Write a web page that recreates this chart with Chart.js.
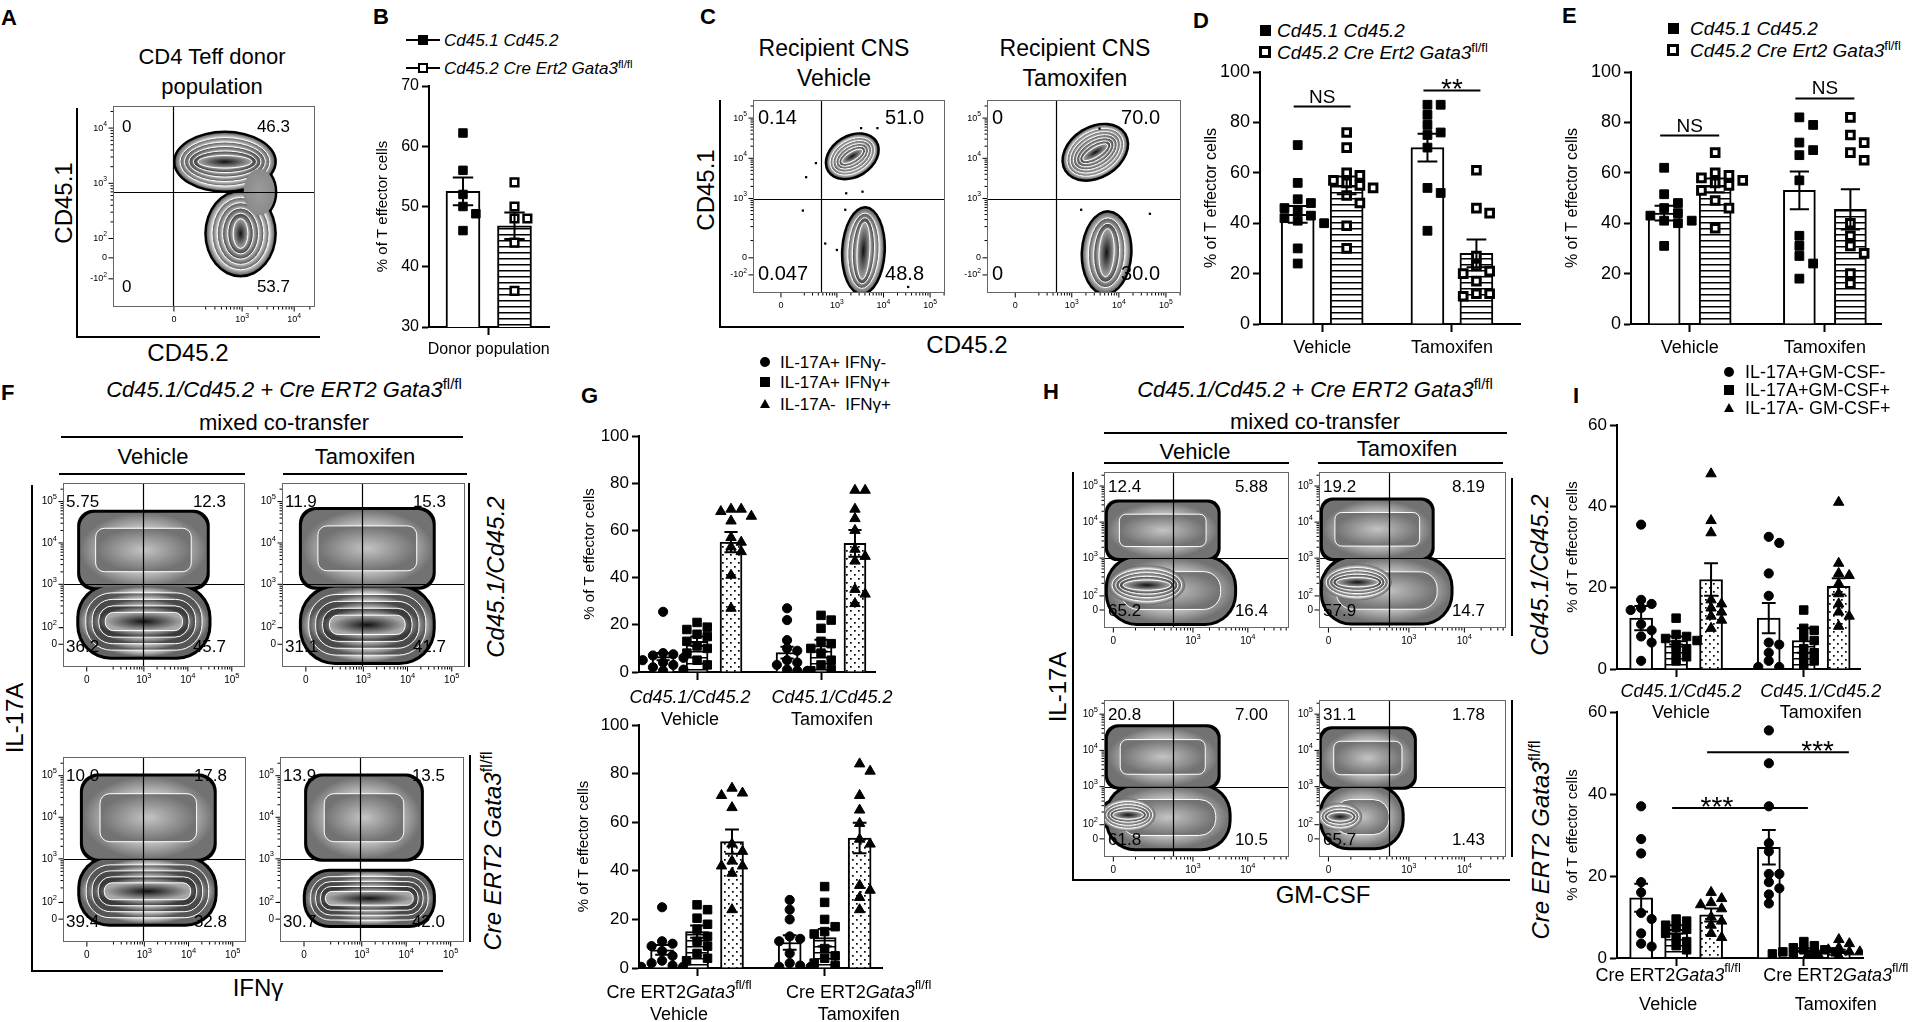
<!DOCTYPE html>
<html>
<head>
<meta charset="utf-8">
<title>Gata3 mixed co-transfer</title>
<script src="https://cdn.jsdelivr.net/npm/chart.js@4.4.1/dist/chart.umd.min.js"></script>
<style>
  html, body { margin: 0; padding: 0; background: #fff; }
  body { position: relative; width: 1918px; height: 1022px; overflow: hidden; color: #000;
         font-family: "Liberation Sans", Arial, Helvetica, sans-serif; }
  .t { position: absolute; white-space: nowrap; line-height: 1; }
  .t sup { font-size: 0.68em; vertical-align: 0; position: relative; top: -0.55em; line-height: 0; font-style: normal; }
  canvas { position: absolute; }
</style>
</head>
<body>
<script>
'use strict';

// ---------- flow plots: quadrant frequencies (TL, TR, BL, BR) ----------
const aQuad = ['0', '46.3', '0', '53.7'];
const cVehQuad = ['0.14', '51.0', '0.047', '48.8'];
const cTamQuad = ['0', '70.0', '0', '30.0'];
const fVehTopQuad = ['5.75', '12.3', '36.2', '45.7'];
const fTamTopQuad = ['11.9', '15.3', '31.1', '41.7'];
const fVehBotQuad = ['10.0', '17.8', '39.4', '32.8'];
const fTamBotQuad = ['13.9', '13.5', '30.7', '42.0'];
const hVehTopQuad = ['12.4', '5.88', '65.2', '16.4'];
const hTamTopQuad = ['19.2', '8.19', '57.9', '14.7'];
const hVehBotQuad = ['20.8', '7.00', '61.8', '10.5'];
const hTamBotQuad = ['31.1', '1.78', '65.7', '1.43'];

// ---------- flow plots: axis ticks, in display decades ----------
const aXTicks = [1.69, 3, 4];            const aXLabels = ['0', '10^3', '10^4'];
const aYTicks = [1.27, 1.65, 2, 3, 4];   const aYLabels = ['-10^2', '0', '10^2', '10^3', '10^4'];
const cXTicks = [1.8, 3, 4, 5];          const cXLabels = ['0', '10^3', '10^4', '10^5'];
const cYTicks = [1.1, 1.525, 3, 4, 5];   const cYLabels = ['-10^2', '0', '10^3', '10^4', '10^5'];
const fXTicks = [1.7, 3, 4, 5];          const fXLabels = ['0', '10^3', '10^4', '10^5'];
const fYTicks = [1.55, 1.95, 3, 4, 5];   const fYLabels = ['0', '10^2', '10^3', '10^4', '10^5'];
const hXTicks = [1.55, 3, 4];            const hXLabels = ['0', '10^3', '10^4'];
const hYTicks = [1.56, 1.95, 3, 4, 5];   const hYLabels = ['0', '10^2', '10^3', '10^4', '10^5'];

// quadrant gates [x, y]
const aGate = [1.67, 2.85];
const cGate = [2.66, 3.0];
const fGate = [2.97, 3.0];
const hGate = [2.64, 3.0];

// populations: [x, y, spreadX, spreadY, contours, shape, tilt, tone]
const aPops = [[2.67, 3.39, 0.95, 0.52, 5, 'e', 0], [2.97, 2.09, 0.65, 0.75, 5, 'e', 0], [3.33, 2.84, 0.3, 0.42, 0, 'e', 0, 'f']];
const cVehPops = [[3.33, 4.05, 0.58, 0.48, 5, 'e', -0.55], [3.57, 1.7, 0.43, 1.05, 3, 'e', 0.05]];
const cTamPops = [[3.5, 4.15, 0.72, 0.6, 6, 'e', -0.55], [3.74, 1.65, 0.5, 1.0, 3, 'e', 0.05]];
const fVehTopPops = [[2.99, 3.83, 1.44, 0.9, 1, 'b', 0, 'm'], [3.0, 2.1, 1.47, 0.85, 4, 'p', 0]];
const fTamTopPops = [[3.09, 3.87, 1.48, 0.93, 1, 'b', 0, 'm'], [3.09, 2.02, 1.48, 0.9, 4, 'p', 0]];
const fVehBotPops = [[3.09, 3.99, 1.48, 0.99, 1, 'b', 0, 'm'], [3.07, 2.22, 1.52, 0.78, 4, 'p', 0]];
const fTamBotPops = [[3.05, 3.99, 1.28, 0.99, 1, 'b', 0, 'm'], [3.17, 2.05, 1.43, 0.64, 4, 'p', 0]];
const hVehTopPops = [[2.45, 3.77, 1.0, 0.77, 1, 'b', 0, 'm'], [2.6, 2.1, 1.15, 0.9, 1, 'p', 0, 'm'], [2.16, 2.25, 0.7, 0.55, 4, 'e', 0]];
const hTamTopPops = [[2.43, 3.8, 0.98, 0.8, 1, 'b', 0, 'm'], [2.6, 2.1, 1.15, 0.89, 1, 'p', 0, 'm'], [2.07, 2.33, 0.62, 0.5, 4, 'e', 0]];
const hVehBotPops = [[2.45, 3.82, 1.0, 0.82, 1, 'b', 0, 'm'], [2.55, 2.15, 1.1, 0.85, 1, 'p', 0, 'm'], [1.82, 2.22, 0.5, 0.45, 4, 'e', 0]];
const hTamBotPops = [[2.26, 3.79, 0.83, 0.79, 1, 'b', 0, 'm'], [2.15, 2.16, 0.72, 0.83, 1, 'p', 0, 'm'], [1.76, 2.17, 0.4, 0.38, 3, 'e', 0]];

// stray events in C
const cVehDotsX = [3.52, 3.87, 2.55, 2.34, 3.2, 3.55, 2.27, 3.18, 2.75, 3.0, 4.53];
const cVehDotsY = [4.75, 4.75, 3.88, 3.53, 3.13, 3.17, 2.7, 2.72, 1.88, 1.72, 0.8];
const cTamDotsX = [3.59, 3.2, 4.66];
const cTamDotsY = [4.74, 2.72, 2.62];

// ---------- B ----------
const bLabels = ['Donor population'];
const bYTicks = [30, 40, 50, 60, 70];
const bMeans = [52.5, 46.8];
const bSem = [2.3, 2.2];
const bWt = [62.2, 56, 52, 50, 48.8, 46];
const bKo = [54, 50, 48, 48, 44, 36];

// ---------- D ----------
const dLabels = ['Vehicle', 'Tamoxifen'];
const dYTicks = [0, 20, 40, 60, 80, 100];
const dMeanWt = [43.5, 70];
const dMeanKo = [55, 28];
const dSemWt = [3.3, 5.5];
const dSemKo = [3.5, 5.5];
const dWtVeh = [71, 56, 49.5, 48, 46, 45, 43, 42, 41, 40, 30, 24];
const dKoVeh = [76, 70, 60, 59, 57, 56, 55, 54, 51, 48, 39, 30];
const dWtTam = [87, 87, 83, 79, 76, 75, 70, 54, 52, 37];
const dKoTam = [61, 46, 44, 27, 23, 21, 20, 17, 12, 12, 11];
const dSig = [['NS', 0, 0, 0, 1, 86.3, 0.5, 0], ['**', 1, 0, 1, 1, 92.7, 0.5, 0]];

// ---------- E ----------
const eLabels = ['Vehicle', 'Tamoxifen'];
const eMeanWt = [44, 53];
const eMeanKo = [55, 45.5];
const eSemWt = [2.9, 7.5];
const eSemKo = [2.7, 8];
const eWtVeh = [62, 51.5, 48, 46, 44, 43, 41, 41, 40, 31];
const eKoVeh = [68, 60, 59, 58, 57, 56, 55, 53, 49, 46, 38];
const eWtTam = [82, 79, 72, 69, 67, 57, 35, 31, 27, 24, 18];
const eKoTam = [82, 75, 72, 68, 65, 40, 35, 31, 28, 20, 16];
const eSig = [['NS', 0, 0, 0, 1, 74.8, 0.5, 0], ['NS', 1, 0, 1, 1, 89.5, 0.5, 0]];

// ---------- G ----------
const gSubsets = ['IL-17A+ IFNγ-', 'IL-17A+ IFNγ+', 'IL-17A-&nbsp; IFNγ+'];
const gYTicks = [0, 20, 40, 60, 80, 100];
const gTopGroups = [['<i>Cd45.1/Cd45.2</i>', 'Vehicle'], ['<i>Cd45.1/Cd45.2</i>', 'Tamoxifen']];
const gBotGroups = [['Cre ERT2<i>Gata3</i><sup>fl/fl</sup>', 'Vehicle'], ['Cre ERT2<i>Gata3</i><sup>fl/fl</sup>', 'Tamoxifen']];
const gTopMeanVeh = [6.5, 13, 55];
const gTopMeanTam = [8.2, 11.2, 54.5];
const gTopSemVeh = [1.5, 2, 4.3];
const gTopSemTam = [2.5, 2.5, 5.7];
const gTopVeh = [[25.5, 8, 7.5, 7, 6, 5, 4, 3, 2, 1, 0.5], [21, 19, 18, 16, 15, 13, 11, 10, 8, 5, 3], [69, 69, 68, 66, 64, 57, 55, 53, 51, 41, 27]];
const gTopTam = [[27, 22, 13.5, 10, 9, 5, 4, 3, 1, 0.5, 0.5], [24, 22, 18.5, 13, 12, 10, 8, 5, 3, 1, 0.5], [77, 77, 69, 65, 60, 52, 49, 47, 35, 33, 29]];
const gBotMeanVeh = [7.5, 15, 52];
const gBotMeanTam = [10.5, 12.5, 53.5];
const gBotSemVeh = [2, 2.5, 5];
const gBotSemTam = [3, 3.5, 6.3];
const gBotVeh = [[25, 11, 10, 9, 7, 5, 3, 2, 1, 0.5, 0.5], [26, 24, 20.5, 18, 16, 13, 11, 9, 6, 4, 3], [74, 72, 71, 66, 51, 48, 44, 42, 42, 39, 24]];
const gBotTam = [[28, 24, 20, 13, 12, 11, 6, 2, 1, 0.5, 0.5], [33.5, 27, 20, 17, 15, 14, 8, 5, 4, 2, 1], [84, 81, 71, 65, 59.5, 53, 51, 34, 32, 29, 24]];

// ---------- I ----------
const iSubsets = ['IL-17A+GM-CSF-', 'IL-17A+GM-CSF+', 'IL-17A- GM-CSF+'];
const iYTicks = [0, 20, 40, 60];
const iTopMeanVeh = [12.5, 7, 22];
const iTopMeanTam = [12.5, 7, 20.3];
const iTopSemVeh = [3, 1, 4];
const iTopSemTam = [3.7, 3, 2];
const iTopVeh = [[35.5, 17, 16, 15, 14.5, 11, 9.5, 8, 6.5, 2], [12.5, 8.5, 8, 7.5, 7, 6, 5, 4, 3, 2], [48, 36.5, 33.5, 17, 16, 15, 14, 13, 12, 10]];
const iTopTam = [[32.5, 31, 23.5, 18, 6.5, 6, 4, 2, 0.5, 0.5], [14.5, 10, 9.5, 8, 7, 5, 4, 3, 2, 1], [41, 26, 23.5, 23, 21, 18.5, 16, 14, 13, 10.5]];
const iBotMeanVeh = [14.7, 7, 10.5];
const iBotMeanTam = [27, 2, 1.6];
const iBotSemVeh = [3.4, 1, 1.6];
const iBotSemTam = [4.2, 0.4, 0.4];
const iBotVeh = [[37, 29, 25.5, 18.5, 16, 11, 9.5, 6, 3.5, 2.8], [9.5, 9, 8, 7.5, 7, 6, 5, 4, 3, 2], [16, 14.5, 13.5, 13, 12, 10, 9, 8, 6, 5]];
const iBotTam = [[55.5, 47.5, 37, 28, 26, 20.5, 20.5, 18.5, 17, 15.5, 13.3], [4, 3, 2.5, 2, 2, 1.5, 1.5, 1, 1, 0.5], [4.5, 3.5, 2.5, 2, 1.5, 1.5, 1, 1, 0.5, 0.5]];
const iBotSig = [['***', 0, 1, 1, 1, 36.6, 0.33, 0], ['***', 0, 2, 1, 2, 50.2, 0.78, 6]];

// ================================================================
const FONT = '"Liberation Sans", Arial, Helvetica, sans-serif';
const GAP = 0.65;
Chart.defaults.font.family = FONT;
Chart.defaults.color = '#000';

const BASE = {
  responsive: false, maintainAspectRatio: false, animation: false, devicePixelRatio: 1, events: [],
  plugins: { legend: { display: false }, tooltip: { enabled: false } }
};

function el(css, html) {
  const d = document.createElement('div');
  d.style.cssText = css;
  if (html != null) { d.className = 't'; d.innerHTML = html; }
  document.body.appendChild(d);
  return d;
}
function text(html, x, y, size, o) {
  o = o || {};
  const tx = o.align === 'left' ? '0' : o.align === 'right' ? '-100%' : '-50%';
  el('left:' + x + 'px;top:' + y + 'px;font-size:' + size + 'px;' +
     (o.b ? 'font-weight:bold;' : '') + (o.i ? 'font-style:italic;' : '') +
     'transform:translate(' + tx + ',-50%)' + (o.rot ? ' rotate(' + o.rot + 'deg)' : '') + ';', html);
}
function hl(x0, x1, y, w) { w = w || 2; el('position:absolute;background:#000;left:' + x0 + 'px;top:' + (y - w / 2) + 'px;width:' + (x1 - x0) + 'px;height:' + w + 'px'); }
function vl(x, y0, y1, w) { w = w || 2; el('position:absolute;background:#000;left:' + (x - w / 2) + 'px;top:' + y0 + 'px;width:' + w + 'px;height:' + (y1 - y0) + 'px'); }
function mark(kind, x, y, s) {
  if (kind === 'tri') {
    el('position:absolute;left:' + (x - s / 2) + 'px;top:' + (y - s * 0.5) + 'px;width:0;height:0;border-left:' + (s / 2) + 'px solid transparent;border-right:' + (s / 2) + 'px solid transparent;border-bottom:' + (s * 0.9) + 'px solid #000');
    return;
  }
  el('position:absolute;box-sizing:border-box;left:' + (x - s / 2) + 'px;top:' + (y - s / 2) + 'px;width:' + s + 'px;height:' + s + 'px;' +
     (kind === 'open' ? 'background:#fff;border:3px solid #000;' : 'background:#000;') + (kind === 'circ' ? 'border-radius:50%;' : ''));
}
function lineMark(x, y, open) {
  hl(x, x + 34, y, 2);
  el('position:absolute;box-sizing:border-box;left:' + (x + 12) + 'px;top:' + (y - 5) + 'px;width:10px;height:10px;background:' + (open ? '#fff' : '#000') + ';border:2px solid #000');
}

function makeCanvas(box, m) {
  const cv = document.createElement('canvas');
  const w = box[2] - box[0] + m[0] + m[2], h = box[3] - box[1] + m[1] + m[3];
  cv.width = w; cv.height = h;
  cv.style.width = w + 'px'; cv.style.height = h + 'px';
  cv.style.left = (box[0] - m[0]) + 'px'; cv.style.top = (box[1] - m[1]) + 'px';
  document.body.appendChild(cv);
  return cv;
}
// keep plot area where the reference has it
function align(ch, box) {
  const a = ch.chartArea;
  ch.canvas.style.left = (box[0] - a.left) + 'px';
  ch.canvas.style.top = (box[1] - a.top) + 'px';
}

function makePattern(kind) {
  const p = document.createElement('canvas');
  p.width = 8; p.height = kind === 'stripes' ? 6 : 8;
  const g = p.getContext('2d');
  g.fillStyle = '#fff'; g.fillRect(0, 0, p.width, p.height);
  g.fillStyle = '#000';
  if (kind === 'stripes') g.fillRect(0, 2, 8, 1.5);
  else { g.fillRect(1, 1, 1.7, 1.7); g.fillRect(5, 5, 1.7, 1.7); }
  return g.createPattern(p, 'repeat');
}
const STRIPES = makePattern('stripes');
const DOTS = makePattern('dots');

function parseRich(str) {
  const out = [], re = /<(i|sup)>(.*?)<\/\1>|([^<]+)/g;
  let m;
  while ((m = re.exec(str))) out.push(m[3] != null ? { t: m[3] } : { t: m[2], i: m[1] === 'i', sup: m[1] === 'sup' });
  return out;
}
function richText(ctx, str, x, y, size) {
  const segs = parseRich(str).map(s => {
    const fs = s.sup ? size * 0.72 : size;
    const f = (s.i ? 'italic ' : '') + fs + 'px ' + FONT;
    ctx.font = f;
    return { t: s.t, f: f, w: ctx.measureText(s.t).width, dy: s.sup ? -size * 0.42 : 0 };
  });
  let cx = x - segs.reduce((s, p) => s + p.w, 0) / 2;
  ctx.save();
  ctx.fillStyle = '#000'; ctx.textAlign = 'left'; ctx.textBaseline = 'middle';
  segs.forEach(p => { ctx.font = p.f; ctx.fillText(p.t, cx, y + p.dy); cx += p.w; });
  ctx.restore();
}

// ---------------- flow plots ----------------
function grey(v) { v = Math.round(v); return 'rgb(' + v + ',' + v + ',' + v + ')'; }
function blobPath(ctx, b, d) {
  const w = Math.max(b.rx - d, 1), h = Math.max(b.ry - d, 1);
  ctx.beginPath();
  if (b.s === 'e') ctx.ellipse(b.cx, b.cy, w, h, b.a, 0, Math.PI * 2);
  else ctx.roundRect(b.cx - w, b.cy - h, 2 * w, 2 * h, Math.min(w, h) * (b.s === 'p' ? 0.9 : 0.4));
  return [w, h];
}
function drawBlobs(ctx, list, ow) {
  list.forEach(b => { blobPath(ctx, b, -ow); ctx.fillStyle = '#000'; ctx.fill(); });
  list.forEach(b => {
    const step = Math.min(b.rx, b.ry) / (b.n + 1.4);
    for (let k = 0; k <= b.n; k++) {
      const wh = blobPath(ctx, b, k * step);
      const core = k === b.n, f = b.n ? k / b.n : 0;
      const inner = core ? 0 : Math.max(0, 1 - step / Math.min(wh[0], wh[1]));
      ctx.save();
      ctx.translate(b.cx, b.cy); ctx.rotate(b.a); ctx.scale(wh[0], wh[1]);
      const g = ctx.createRadialGradient(0, 0, inner, 0, 0, 1);
      if (b.t === 'm') { g.addColorStop(0, '#c4c4c4'); g.addColorStop(1, '#727272'); }
      else if (b.t === 'f') { g.addColorStop(0, '#9c9c9c'); g.addColorStop(1, '#8a8a8a'); }
      else if (core) { g.addColorStop(0, '#111'); g.addColorStop(1, '#a8a8a8'); }
      else { g.addColorStop(0, grey(228 - 60 * f)); g.addColorStop(1, grey(100 - 55 * f)); }
      ctx.fillStyle = g;
      ctx.fill();
      ctx.restore();
      if (k > 0) { ctx.lineWidth = 1; ctx.strokeStyle = '#fff'; ctx.stroke(); }
    }
  });
}
function expLabel(ctx, s, x, y, align, size) {
  const parts = s.split('^');
  ctx.textBaseline = 'middle'; ctx.textAlign = 'left';
  ctx.font = size + 'px ' + FONT;
  const bw = ctx.measureText(parts[0]).width;
  ctx.font = (size * 0.75) + 'px ' + FONT;
  const ew = parts[1] ? ctx.measureText(parts[1]).width : 0;
  const x0 = align === 'right' ? x - bw - ew : x - (bw + ew) / 2;
  ctx.font = size + 'px ' + FONT;
  ctx.fillText(parts[0], x0, y);
  if (parts[1]) { ctx.font = (size * 0.75) + 'px ' + FONT; ctx.fillText(parts[1], x0 + bw, y - size * 0.45); }
}
function minors(ticks, labels, scale) {
  const zero = ticks[labels.indexOf('0')], out = [];
  for (let d = 1; d <= 5; d++) for (let k = 2; k <= 9; k++) {
    const v = d + Math.log10(k);
    if (v > zero + 0.4 && v > scale.min && v < scale.max) out.push(v);
  }
  return out;
}
function flowPlugin(c) {
  return {
    id: 'flow',
    beforeDatasetsDraw(ch) {
      const ctx = ch.ctx, a = ch.chartArea, xs = ch.scales.x, ys = ch.scales.y;
      const kx = Math.abs(xs.getPixelForValue(1) - xs.getPixelForValue(0));
      const ky = Math.abs(ys.getPixelForValue(1) - ys.getPixelForValue(0));
      const list = c.pops.map(p => ({ cx: xs.getPixelForValue(p[0]), cy: ys.getPixelForValue(p[1]),
        rx: p[2] * kx, ry: p[3] * ky, n: p[4], s: p[5], a: p[6] || 0, t: p[7] || 'z' }));
      ctx.save();
      ctx.beginPath(); ctx.rect(a.left, a.top, a.right - a.left, a.bottom - a.top); ctx.clip();
      drawBlobs(ctx, list, c.ow);
      ctx.restore();
    },
    afterDatasetsDraw(ch) {
      const ctx = ch.ctx, a = ch.chartArea, xs = ch.scales.x, ys = ch.scales.y;
      ctx.save();
      ctx.strokeStyle = '#000'; ctx.lineWidth = 1.2;
      const gx = Math.round(xs.getPixelForValue(c.gate[0])) + 0.5, gy = Math.round(ys.getPixelForValue(c.gate[1])) + 0.5;
      ctx.beginPath(); ctx.moveTo(gx, a.top); ctx.lineTo(gx, a.bottom); ctx.moveTo(a.left, gy); ctx.lineTo(a.right, gy); ctx.stroke();
      ctx.strokeStyle = '#666'; ctx.lineWidth = 1;
      ctx.strokeRect(a.left + 0.5, a.top + 0.5, a.right - a.left - 1, a.bottom - a.top - 1);
      ctx.strokeStyle = '#000'; ctx.fillStyle = '#000';
      const tick = (x1, y1, x2, y2) => { ctx.beginPath(); ctx.moveTo(x1, y1); ctx.lineTo(x2, y2); ctx.stroke(); };
      minors(c.xt, c.xl, xs).forEach(v => { const p = xs.getPixelForValue(v); tick(p, a.bottom, p, a.bottom + 2.5); });
      minors(c.yt, c.yl, ys).forEach(v => { const p = ys.getPixelForValue(v); tick(a.left, p, a.left - 2.5, p); });
      c.xt.forEach((v, i) => { const p = xs.getPixelForValue(v); tick(p, a.bottom, p, a.bottom + 4.5); expLabel(ctx, c.xl[i], p, a.bottom + 13, 'center', c.ts); });
      c.yt.forEach((v, i) => { const p = ys.getPixelForValue(v); tick(a.left, p, a.left - 4.5, p); expLabel(ctx, c.yl[i], a.left - 6, p, 'right', c.ts); });
      ctx.font = c.ns + 'px ' + FONT; ctx.textBaseline = 'middle';
      ctx.textAlign = 'left';
      ctx.fillText(c.quad[0], a.left + c.ni[0], a.top + c.ni[2]);
      ctx.fillText(c.quad[2], a.left + c.ni[0], a.bottom - c.ni[3]);
      ctx.textAlign = 'right';
      ctx.fillText(c.quad[1], a.right - c.ni[1], a.top + c.ni[2]);
      ctx.fillText(c.quad[3], a.right - c.ni[1], a.bottom - c.ni[3]);
      ctx.restore();
    }
  };
}
function flowPanel(c) {
  const m = [44, 8, 8, 24];
  const cv = makeCanvas(c.box, m);
  const dots = (c.dx || []).map((x, i) => ({ x: x, y: c.dy[i] }));
  const ch = new Chart(cv, {
    type: 'scatter',
    data: { datasets: [
      { data: c.pops.map(p => ({ x: p[0], y: p[1] })), pointRadius: 0, pointHoverRadius: 0 },
      { data: dots, pointStyle: 'rect', pointRadius: 1.6, pointBackgroundColor: '#000', pointBorderWidth: 0 }
    ] },
    options: Object.assign({}, BASE, {
      layout: { padding: { left: m[0], top: m[1], right: m[2], bottom: m[3] }, autoPadding: false },
      scales: {
        x: { type: 'linear', display: false, min: c.x[0], max: c.x[1] },
        y: { type: 'linear', display: false, min: c.y[0], max: c.y[1] }
      }
    }),
    plugins: [flowPlugin(c)]
  });
  align(ch, c.box);
  return ch;
}

// ---------------- bar + dot plots ----------------
function pos(g, b, nb) { return 1 + g * (nb + GAP) + b; }
// side-by-side placement of points that would overlap (scatter dot plot style)
function dodge(vals, tol, step) {
  const order = vals.map((v, i) => i).sort((p, q) => vals[q] - vals[p]);
  const off = vals.map(() => 0), placed = [];
  order.forEach(i => {
    for (let k = 0; k < 14; k++) {
      const o = (k % 2 ? 1 : -1) * Math.ceil(k / 2) * step;
      if (!placed.some(j => Math.abs(vals[j] - vals[i]) < tol && Math.abs(off[j] - o) < step * 0.9)) { off[i] = o; break; }
    }
    placed.push(i);
  });
  return off;
}
function barPlugin(c, errs, nb) {
  return {
    id: 'barExtras',
    afterDatasetsDraw(ch) {
      const ctx = ch.ctx, xs = ch.scales.x, ys = ch.scales.y;
      ctx.save();
      ctx.strokeStyle = '#000'; ctx.fillStyle = '#000'; ctx.lineWidth = 2;
      errs.forEach(e => {
        const px = xs.getPixelForValue(e[0]), t = ys.getPixelForValue(e[1] + e[2]), b = ys.getPixelForValue(e[1] - e[2]), w = c.thick * 0.3;
        ctx.beginPath();
        ctx.moveTo(px, t); ctx.lineTo(px, b);
        ctx.moveTo(px - w, t); ctx.lineTo(px + w, t);
        ctx.moveTo(px - w, b); ctx.lineTo(px + w, b);
        ctx.stroke();
      });
      (c.sig || []).forEach(s => {
        const x1 = xs.getPixelForValue(pos(s[1], s[2], nb)) - 4;
        const x2 = xs.getPixelForValue(pos(s[3], s[4], nb)) + 4 + s[7];
        const y = ys.getPixelForValue(s[5]);
        ctx.beginPath(); ctx.moveTo(x1, y); ctx.lineTo(x2, y); ctx.stroke();
        const star = s[0].charAt(0) === '*';
        ctx.font = (star ? 28 : 19) + 'px ' + FONT;
        ctx.textAlign = 'center'; ctx.textBaseline = 'alphabetic';
        ctx.fillText(s[0], x1 + (x2 - x1) * s[6], y + (star ? 8 : -4));
      });
      ctx.restore();
    },
    afterDraw(ch) {
      if (!c.rich) return;
      const ctx = ch.ctx, xs = ch.scales.x, a = ch.chartArea;
      c.groups.forEach((lines, g) => {
        const x = xs.getPixelForValue(pos(g, (nb - 1) / 2, nb)) + c.ldx[g];
        lines.forEach((ln, k) => richText(ctx, ln, x, a.bottom + c.ly[k], c.fs + 1));
      });
    }
  };
}
function barPanel(c) {
  const nb = c.means[0].length;
  const bars = [], fills = [], errs = [];
  c.means.forEach((row, g) => row.forEach((v, b) => {
    bars.push({ x: pos(g, b, nb), y: v });
    fills.push(c.fills[b]);
    errs.push([pos(g, b, nb), v, c.sems[g][b]]);
  }));
  const sets = [{ type: 'bar', data: bars, backgroundColor: fills, borderColor: '#000', borderWidth: 2, barThickness: c.thick, order: 3 }];
  c.mk.forEach((mk, b) => {
    const data = [];
    c.pts.forEach((row, g) => {
      const off = dodge(row[b], c.tol, c.step);
      row[b].forEach((v, i) => data.push({ x: pos(g, b, nb) + off[i], y: v }));
    });
    sets.push({ type: 'scatter', data: data, order: 1, pointStyle: mk[0], pointRadius: mk[1],
      pointBackgroundColor: mk[2], pointBorderColor: '#000', pointBorderWidth: mk[3] });
  });
  const centers = c.groups.map((l, g) => pos(g, (nb - 1) / 2, nb));
  const m = c.m;
  const cv = makeCanvas(c.box, m);
  const grid = { display: true, drawOnChartArea: false, drawTicks: true, tickLength: 7, tickWidth: 2, tickColor: '#000', offset: false };
  const border = { display: true, width: 2, color: '#000' };
  const ch = new Chart(cv, {
    type: 'bar',
    data: { datasets: sets },
    options: Object.assign({}, BASE, {
      layout: { padding: { left: 0, top: m[1], right: m[2], bottom: 0 }, autoPadding: false },
      scales: {
        x: { type: 'linear', min: c.x[0], max: c.x[1], offset: false,
             afterBuildTicks: s => { s.ticks = centers.map(v => ({ value: v })); },
             afterFit: s => { s.height = m[3]; },
             ticks: { autoSkip: false, maxRotation: 0, font: { size: c.fs }, color: '#000', padding: 5,
                      callback: (v, i) => (c.rich ? '' : c.groups[i]) },
             grid: Object.assign({}, grid, { tickLength: 8 }), border: border },
        y: { type: 'linear', min: c.y[0], max: c.y[c.y.length - 1],
             afterBuildTicks: s => { s.ticks = c.y.map(v => ({ value: v })); },
             afterFit: s => { s.width = m[0]; },
             ticks: { font: { size: c.fs }, color: '#000', padding: 3 },
             grid: grid, border: border,
             title: { display: true, text: '% of T effector cells', font: { size: c.ts }, color: '#000', padding: 0 } }
      }
    }),
    plugins: [barPlugin(c, errs, nb)]
  });
  align(ch, c.box);
  return ch;
}

const MK_SQ = ['rect', 6.2, '#000', 1];
const MK_OSQ = ['rect', 5.4, '#fff', 3];
const MK_CIRC = ['circle', 4.6, '#000', 1];
const MK_FSQ = ['rect', 6, '#000', 1];
const MK_TRI = ['triangle', 6, '#000', 1];

// ================= A =================
text('A', 1, 18, 22, { b: true, align: 'left' });
text('CD4 Teff donor', 212, 57, 22);
text('population', 212, 87, 22);
text('CD45.1', 64, 203, 24, { rot: -90 });
text('CD45.2', 188, 353, 24);
vl(77, 108, 338); hl(76, 320, 337);
flowPanel({ box: [113, 106, 315, 307], x: [0.52, 4.4], y: [0.76, 4.4], xt: aXTicks, xl: aXLabels, yt: aYTicks, yl: aYLabels,
  gate: aGate, pops: aPops, quad: aQuad, ns: 17, ni: [9, 25, 21, 20], ts: 9, ow: 2.5 });

// ================= B =================
text('B', 373, 17, 22, { b: true, align: 'left' });
lineMark(406, 40, false); text('<i>Cd45.1 Cd45.2</i>', 444, 40, 17, { align: 'left' });
lineMark(406, 68, true);  text('<i>Cd45.2 Cre Ert2 Gata3</i><sup>fl/fl</sup>', 444, 68, 17, { align: 'left' });
barPanel({ box: [429, 86, 549, 327], m: [55, 16, 14, 40], x: [0.34, 2.67], y: bYTicks, groups: bLabels,
  means: [bMeans], sems: [bSem], pts: [[bWt, bKo]], mk: [['rect', 6, '#000', 1], ['rect', 5.4, '#fff', 2.5]],
  fills: ['#fff', STRIPES], thick: 34, fs: 16, ts: 15, tol: 1.5, step: 0.25 });

// ================= C =================
text('C', 700, 17, 22, { b: true, align: 'left' });
text('Recipient CNS', 834, 48, 23); text('Vehicle', 834, 78, 23);
text('Recipient CNS', 1075, 48, 23); text('Tamoxifen', 1075, 78, 23);
text('CD45.1', 706, 190, 24, { rot: -90 });
text('CD45.2', 967, 345, 24);
vl(720, 100, 328); hl(719, 1184, 327);
flowPanel({ box: [753, 100, 945, 293], x: [1.2, 5.32], y: [0.65, 5.45], xt: cXTicks, xl: cXLabels, yt: cYTicks, yl: cYLabels,
  gate: cGate, pops: cVehPops, dx: cVehDotsX, dy: cVehDotsY, quad: cVehQuad, ns: 20, ni: [5, 21, 18, 19], ts: 9, ow: 2.5 });
flowPanel({ box: [987, 100, 1181, 293], x: [1.2, 5.32], y: [0.65, 5.45], xt: cXTicks, xl: cXLabels, yt: cYTicks, yl: cYLabels,
  gate: cGate, pops: cTamPops, dx: cTamDotsX, dy: cTamDotsY, quad: cTamQuad, ns: 20, ni: [5, 21, 18, 19], ts: 9, ow: 2.5 });

// ================= D =================
text('D', 1193, 21, 22, { b: true, align: 'left' });
mark('sq', 1265, 30, 11); text('<i>Cd45.1 Cd45.2</i>', 1277, 30, 19, { align: 'left' });
mark('open', 1265, 52, 12); text('<i>Cd45.2 Cre Ert2 Gata3</i><sup>fl/fl</sup>', 1277, 52, 19, { align: 'left' });
barPanel({ box: [1260, 72, 1520, 324], m: [58, 20, 10, 45], x: [0.23, 5.54], y: dYTicks, groups: dLabels,
  means: [[dMeanWt[0], dMeanKo[0]], [dMeanWt[1], dMeanKo[1]]], sems: [[dSemWt[0], dSemKo[0]], [dSemWt[1], dSemKo[1]]],
  pts: [[dWtVeh, dKoVeh], [dWtTam, dKoTam]], mk: [MK_SQ, MK_OSQ], fills: ['#fff', STRIPES],
  thick: 33, fs: 18, ts: 16, tol: 3.6, step: 0.27, sig: dSig });

// ================= E =================
text('E', 1562, 16, 22, { b: true, align: 'left' });
mark('sq', 1673, 28, 11); text('<i>Cd45.1 Cd45.2</i>', 1690, 28, 19, { align: 'left' });
mark('open', 1673, 50, 12); text('<i>Cd45.2 Cre Ert2 Gata3</i><sup>fl/fl</sup>', 1690, 50, 19, { align: 'left' });
barPanel({ box: [1631, 72, 1881, 324], m: [68, 20, 15, 45], x: [0.35, 5.25], y: dYTicks, groups: eLabels,
  means: [[eMeanWt[0], eMeanKo[0]], [eMeanWt[1], eMeanKo[1]]], sems: [[eSemWt[0], eSemKo[0]], [eSemWt[1], eSemKo[1]]],
  pts: [[eWtVeh, eKoVeh], [eWtTam, eKoTam]], mk: [MK_SQ, MK_OSQ], fills: ['#fff', STRIPES],
  thick: 32, fs: 18, ts: 16, tol: 3.6, step: 0.27, sig: eSig });

// ================= F =================
text('F', 1, 393, 22, { b: true, align: 'left' });
text('<i>Cd45.1/Cd45.2 + Cre ERT2 Gata3</i><sup>fl/fl</sup>', 284, 390, 22);
text('mixed co-transfer', 284, 423, 22);
hl(61, 463, 437);
text('Vehicle', 153, 457, 22); hl(59, 245, 474);
text('Tamoxifen', 365, 457, 22); hl(283, 467, 474);
vl(469, 483, 667); text('<i>Cd45.1/Cd45.2</i>', 496, 577, 24, { rot: -90 });
vl(470, 755, 942); text('<i>Cre ERT2 Gata3</i><sup>fl/fl</sup>', 493, 851, 24, { rot: -90 });
vl(32, 485, 972); hl(31, 443, 971);
text('IL-17A', 15, 718, 24, { rot: -90 });
text('IFNγ', 258, 988, 24);
const fAxes = { x: [1.16, 5.3], y: [1.0, 5.45], xt: fXTicks, xl: fXLabels, yt: fYTicks, yl: fYLabels, gate: fGate, ns: 17, ni: [3, 19, 19, 20], ts: 10, ow: 3 };
flowPanel(Object.assign({ box: [63, 483, 245, 667], pops: fVehTopPops, quad: fVehTopQuad }, fAxes));
flowPanel(Object.assign({ box: [282, 483, 465, 667], pops: fTamTopPops, quad: fTamTopQuad }, fAxes));
flowPanel(Object.assign({ box: [63, 757, 246, 942], pops: fVehBotPops, quad: fVehBotQuad }, fAxes));
flowPanel(Object.assign({ box: [280, 757, 464, 942], pops: fTamBotPops, quad: fTamBotQuad }, fAxes));

// ================= G =================
text('G', 581, 396, 22, { b: true, align: 'left' });
mark('circ', 765, 362, 10); text(gSubsets[0], 780, 362, 17, { align: 'left' });
mark('sq', 765, 382, 10);   text(gSubsets[1], 780, 382, 17, { align: 'left' });
mark('tri', 765, 404, 11);  text(gSubsets[2], 780, 404, 17, { align: 'left' });
barPanel({ box: [639, 436, 875, 672], m: [58, 15, 60, 55], x: [0.29, 7.24], y: gYTicks, groups: gTopGroups, rich: true,
  ldx: [-7, 11], ly: [26, 48], means: [gTopMeanVeh, gTopMeanTam], sems: [gTopSemVeh, gTopSemTam], pts: [gTopVeh, gTopTam],
  mk: [MK_CIRC, MK_FSQ, MK_TRI], fills: ['#fff', STRIPES, DOTS], thick: 22, fs: 17, ts: 15, tol: 3.4, step: 0.3 });
barPanel({ box: [639, 725, 882, 968], m: [64, 15, 60, 55], x: [0.34, 7.29], y: gYTicks, groups: gBotGroups, rich: true,
  ldx: [-18, 34], ly: [25, 47], means: [gBotMeanVeh, gBotMeanTam], sems: [gBotSemVeh, gBotSemTam], pts: [gBotVeh, gBotTam],
  mk: [MK_CIRC, MK_FSQ, MK_TRI], fills: ['#fff', STRIPES, DOTS], thick: 23, fs: 17, ts: 15, tol: 3.4, step: 0.3 });

// ================= H =================
text('H', 1043, 392, 22, { b: true, align: 'left' });
text('<i>Cd45.1/Cd45.2 + Cre ERT2 Gata3</i><sup>fl/fl</sup>', 1315, 390, 22);
text('mixed co-transfer', 1315, 422, 22);
hl(1104, 1507, 433);
text('Vehicle', 1195, 452, 22); hl(1104, 1289, 463);
text('Tamoxifen', 1407, 449, 22); hl(1318, 1503, 463);
text('IL-17A', 1058, 687, 24, { rot: -90 });
vl(1073, 472, 881); hl(1072, 1510, 880);
text('GM-CSF', 1323, 895, 24);
vl(1512, 478, 636); text('<i>Cd45.1/Cd45.2</i>', 1540, 575, 24, { rot: -90 });
vl(1512, 700, 857); text('<i>Cre ERT2 Gata3</i><sup>fl/fl</sup>', 1541, 840, 24, { rot: -90 });
const hAxes = { x: [1.38, 4.75], y: [1.06, 5.39], xt: hXTicks, xl: hXLabels, yt: hYTicks, yl: hYLabels, gate: hGate, ns: 17, ni: [4, 21, 15, 17], ts: 10, ow: 3 };
flowPanel(Object.assign({ box: [1104, 472, 1289, 628], pops: hVehTopPops, quad: hVehTopQuad }, hAxes));
flowPanel(Object.assign({ box: [1319, 472, 1506, 628], pops: hTamTopPops, quad: hTamTopQuad }, hAxes));
flowPanel(Object.assign({ box: [1104, 700, 1289, 857], pops: hVehBotPops, quad: hVehBotQuad }, hAxes));
flowPanel(Object.assign({ box: [1319, 700, 1506, 857], pops: hTamBotPops, quad: hTamBotQuad }, hAxes));

// ================= I =================
text('I', 1573, 396, 22, { b: true, align: 'left' });
mark('circ', 1729, 372, 10); text(iSubsets[0], 1745, 372, 18, { align: 'left' });
mark('sq', 1729, 390, 10);   text(iSubsets[1], 1745, 390, 18, { align: 'left' });
mark('tri', 1729, 408, 11);  text(iSubsets[2], 1745, 408, 18, { align: 'left' });
barPanel({ box: [1617, 425, 1860, 669], m: [53, 15, 58, 55], x: [0.31, 7.26], y: iYTicks, groups: gTopGroups, rich: true,
  ldx: [5, 17], ly: [23, 44], means: [iTopMeanVeh, iTopMeanTam], sems: [iTopSemVeh, iTopSemTam], pts: [iTopVeh, iTopTam],
  mk: [MK_CIRC, MK_FSQ, MK_TRI], fills: ['#fff', STRIPES, DOTS], thick: 23, fs: 17, ts: 15, tol: 2.0, step: 0.3 });
barPanel({ box: [1617, 712, 1863, 958], m: [53, 15, 55, 64], x: [0.31, 7.34], y: iYTicks, groups: gBotGroups, rich: true,
  ldx: [-8, 32], ly: [18, 47], means: [iBotMeanVeh, iBotMeanTam], sems: [iBotSemVeh, iBotSemTam], pts: [iBotVeh, iBotTam],
  mk: [MK_CIRC, MK_FSQ, MK_TRI], fills: ['#fff', STRIPES, DOTS], thick: 23, fs: 17, ts: 15, tol: 2.0, step: 0.3, sig: iBotSig });
</script>
</body>
</html>
